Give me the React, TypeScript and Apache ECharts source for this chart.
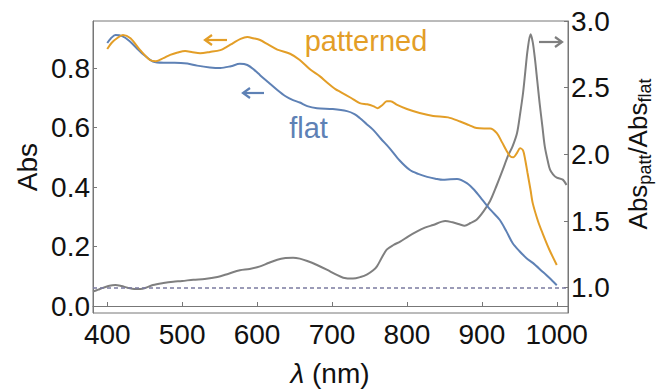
import React, { useEffect, useRef } from 'react';
import * as echarts from 'echarts';

const FONT = '"Liberation Sans", Arial, Helvetica, sans-serif';

// Tick values
const xTicks = [400, 500, 600, 700, 800, 900, 1000];
const absTicks = [0, 0.2, 0.4, 0.6, 0.8];
const ratioTicks = [1.0, 1.5, 2.0, 2.5, 3.0];

// Flat film absorbance (blue)
const flatWl = [400, 405, 411, 420, 430, 440, 450, 461, 475, 490, 507, 520, 537, 551, 565, 577, 587, 597, 604, 615, 627, 638, 648, 657, 667, 680, 701, 720, 730, 737, 746, 755, 765, 777, 790, 804, 815, 827, 838, 848, 858, 867, 880, 890, 901, 912, 924, 933, 941, 950, 960, 968, 980, 990, 1000];
const flatAbs = [0.884, 0.9, 0.911, 0.907, 0.89, 0.865, 0.842, 0.822, 0.818, 0.818, 0.815, 0.808, 0.802, 0.8, 0.806, 0.814, 0.81, 0.792, 0.776, 0.752, 0.726, 0.705, 0.692, 0.684, 0.672, 0.665, 0.662, 0.655, 0.645, 0.632, 0.612, 0.592, 0.563, 0.53, 0.49, 0.457, 0.444, 0.434, 0.428, 0.424, 0.426, 0.427, 0.413, 0.39, 0.356, 0.322, 0.289, 0.25, 0.212, 0.185, 0.16, 0.145, 0.118, 0.095, 0.07];

// Patterned film absorbance (orange)
const pattWl = [400, 406, 413, 421, 431, 444, 457, 465, 475, 484, 494, 504, 514, 524, 537, 551, 560, 568, 578, 587, 595, 604, 614, 627, 644, 657, 671, 684, 693, 705, 711, 725, 737, 747, 755, 761, 767, 773, 778, 787, 800, 817, 835, 855, 871, 883, 893, 903, 911, 920, 927, 933, 938, 942, 947, 951, 955, 958, 961, 965, 968, 975, 981, 990, 1000];
const pattAbs = [0.864, 0.885, 0.9, 0.911, 0.9, 0.86, 0.827, 0.823, 0.833, 0.844, 0.852, 0.857, 0.853, 0.85, 0.854, 0.86, 0.872, 0.884, 0.898, 0.904, 0.9, 0.894, 0.88, 0.862, 0.848, 0.827, 0.795, 0.772, 0.752, 0.728, 0.72, 0.7, 0.682, 0.678, 0.672, 0.665, 0.675, 0.688, 0.688, 0.676, 0.662, 0.649, 0.639, 0.634, 0.62, 0.608, 0.598, 0.597, 0.597, 0.581, 0.55, 0.522, 0.503, 0.5, 0.515, 0.53, 0.523, 0.49, 0.447, 0.39, 0.345, 0.285, 0.245, 0.19, 0.138];

// Ratio Abs_patt / Abs_flat (gray, right axis)
const ratioWl = [381, 388, 395, 403, 411, 419, 427, 436, 444, 452, 461, 475, 488, 500, 515, 530, 547, 562, 577, 590, 604, 615, 627, 638, 648, 657, 667, 680, 693, 705, 715, 728, 738, 747, 755, 760, 766, 773, 782, 791, 802, 813, 824, 835, 851, 861, 870, 877, 885, 893, 902, 911, 920, 928, 935, 941, 947, 951, 955, 958, 961, 965, 968, 971, 974, 977, 981, 984, 988, 991, 995, 1000, 1008, 1013];
const ratioVal = [0.97, 0.985, 1.0, 1.015, 1.02, 1.012, 1.0, 0.99, 0.99, 1.0, 1.02, 1.035, 1.045, 1.05, 1.06, 1.065, 1.08, 1.105, 1.13, 1.14, 1.16, 1.185, 1.21, 1.222, 1.225, 1.218, 1.2, 1.17, 1.135, 1.1, 1.075, 1.068, 1.08, 1.1, 1.13, 1.16, 1.22, 1.285, 1.32, 1.345, 1.385, 1.42, 1.45, 1.47, 1.5, 1.49, 1.475, 1.465, 1.485, 1.51, 1.57, 1.65, 1.77, 1.885, 1.99, 2.06, 2.16, 2.3, 2.46, 2.62, 2.78, 2.9, 2.84, 2.71, 2.55, 2.39, 2.2, 2.06, 1.95, 1.885, 1.85, 1.825, 1.81, 1.77];

const refRatio = 1.0;

const BLUE = '#5E81B5';
const ORANGE = '#E39E27';
const GRAY = '#7F7F7F';
const FRAME = '#777777';

const zip = (a: number[], b: number[]) => a.map((v, i) => [v, b[i]]);

function arrow(x1: number, x2: number, y: number, color: string, headLeft: boolean) {
  const hx = headLeft ? x1 : x2;
  const d = headLeft ? 7 : -7;
  return {
    type: 'group',
    children: [
      { type: 'line', shape: { x1, y1: y, x2, y2: y }, style: { stroke: color, lineWidth: 2.2 } },
      {
        type: 'polyline',
        shape: { points: [[hx + d, y - 5], [hx, y], [hx + d, y + 5]] },
        style: { stroke: color, lineWidth: 2.2, fill: null },
      },
    ],
  };
}

export default function App() {
  const ref = useRef<HTMLDivElement>(null);
  useEffect(() => {
    document.body.style.margin = '0';
    const chart = echarts.init(ref.current!, null, { renderer: 'svg' });
    const labelStyle = { color: '#111', fontSize: 28, fontFamily: FONT };
    const mainFs = 26;
    const subFs = 18;
    const w = (s: string, fs: number) => {
      const m: Record<string, number> = { A: 0.667, b: 0.556, s: 0.5, p: 0.556, a: 0.556, t: 0.278, '/': 0.278, f: 0.278, l: 0.222 };
      return s.split('').reduce((acc, c) => acc + (m[c] || 0.556), 0) * fs;
    };
    const parts = [
      { t: 'Abs', fs: mainFs, sub: false },
      { t: 'patt', fs: subFs, sub: true },
      { t: '/', fs: mainFs, sub: false },
      { t: 'Abs', fs: mainFs, sub: false },
      { t: 'flat', fs: subFs, sub: true },
    ];
    const total = parts.reduce((a, p) => a + w(p.t, p.fs), 0);
    let cx = -total / 2;
    const rightLabelChildren = parts.map((p) => {
      const el = {
        type: 'text',
        x: cx,
        y: p.sub ? 7 : 0,
        style: { text: p.t, fontSize: p.fs, fontFamily: FONT, fill: '#111', align: 'left', verticalAlign: 'middle' },
      };
      cx += w(p.t, p.fs);
      return el;
    });

    chart.setOption({
      animation: false,
      backgroundColor: '#fff',
      grid: { left: 93, top: 21, right: 96, bottom: 76, show: true, borderColor: FRAME, borderWidth: 1 },
      xAxis: {
        type: 'value',
        min: 381,
        max: 1015,
        axisLine: { show: true, lineStyle: { color: FRAME, width: 1 } },
        axisTick: { show: true, inside: true, length: 4, customValues: xTicks, lineStyle: { color: FRAME } },
        axisLabel: { ...labelStyle, margin: 7, customValues: xTicks, formatter: (v: number) => String(v) },
        splitLine: { show: false },
      },
      yAxis: [
        {
          type: 'value',
          min: -0.0235,
          max: 0.958,
          axisLine: { show: true, lineStyle: { color: FRAME, width: 1 } },
          axisTick: { show: true, inside: true, length: 4, customValues: absTicks, lineStyle: { color: FRAME } },
          axisLabel: { ...labelStyle, margin: 3, customValues: absTicks, formatter: (v: number) => v.toFixed(1) },
          splitLine: { show: false },
        },
        {
          type: 'value',
          position: 'right',
          min: 0.81,
          max: 3.0,
          axisLine: { show: true, lineStyle: { color: FRAME, width: 1 } },
          axisTick: { show: true, inside: true, length: 4, customValues: ratioTicks, lineStyle: { color: FRAME } },
          axisLabel: { ...labelStyle, margin: 3, customValues: ratioTicks, formatter: (v: number) => v.toFixed(1) },
          splitLine: { show: false },
        },
      ],
      series: [
        {
          name: 'ratio',
          type: 'line',
          yAxisIndex: 1,
          data: zip(ratioWl, ratioVal),
          showSymbol: false,
          smooth: 0.3,
          lineStyle: { color: GRAY, width: 2 },
          markLine: {
            silent: true,
            symbol: 'none',
            label: { show: false },
            lineStyle: { color: '#7b7ba0', width: 1.5, type: [4, 3] },
            data: [{ yAxis: refRatio }],
          },
          z: 2,
        },
        {
          name: 'flat',
          type: 'line',
          yAxisIndex: 0,
          data: zip(flatWl, flatAbs),
          showSymbol: false,
          smooth: 0.3,
          lineStyle: { color: BLUE, width: 2 },
          z: 3,
        },
        {
          name: 'patterned',
          type: 'line',
          yAxisIndex: 0,
          data: zip(pattWl, pattAbs),
          showSymbol: false,
          smooth: 0.3,
          lineStyle: { color: ORANGE, width: 2 },
          z: 4,
        },
      ],
      graphic: [
        {
          type: 'text',
          x: 330,
          y: 373,
          style: {
            text: '{i|λ} (nm)',
            fontSize: 28,
            fontFamily: FONT,
            fill: '#111',
            align: 'center',
            verticalAlign: 'middle',
            rich: { i: { fontStyle: 'italic', fontSize: 28, fontFamily: FONT, fill: '#111' } },
          },
        },
        {
          type: 'text',
          x: 27,
          y: 167,
          rotation: Math.PI / 2,
          style: { text: 'Abs', fontSize: 28, fontFamily: FONT, fill: '#111', align: 'center', verticalAlign: 'middle' },
        },
        {
          type: 'group',
          x: 638,
          y: 154,
          rotation: Math.PI / 2,
          children: rightLabelChildren,
        },
        {
          type: 'text',
          x: 366,
          y: 41,
          style: { text: 'patterned', fontSize: 29, fontFamily: FONT, fill: ORANGE, align: 'center', verticalAlign: 'middle' },
        },
        {
          type: 'text',
          x: 308.5,
          y: 128,
          style: { text: 'flat', fontSize: 29, fontFamily: FONT, fill: BLUE, align: 'center', verticalAlign: 'middle' },
        },
        arrow(205, 227, 40, ORANGE, true),
        arrow(243, 264, 93, BLUE, true),
        arrow(539, 562, 42, GRAY, false),
      ],
    });
    return () => chart.dispose();
  }, []);
  return (
    <div
      ref={ref}
      style={{ width: 664, height: 389, position: 'fixed', left: 0, top: 0, background: '#fff' }}
    />
  );
}
